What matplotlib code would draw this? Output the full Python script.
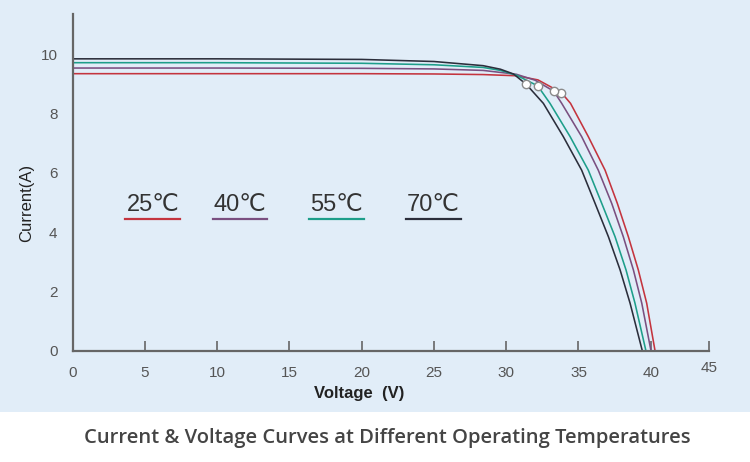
import matplotlib
matplotlib.use("Agg")
import matplotlib.pyplot as plt
from matplotlib.patches import Rectangle

# I-V curves, one list pair per temperature
temps = ["25℃", "40℃", "55℃", "70℃"]
colors = ["#c4343e", "#7a4f80", "#1d9e8a", "#2b2e3b"]

v_25 = [0, 10, 20, 25, 28.4, 30.7, 32.2, 33.82, 34.45, 35.68, 36.84, 37.69, 38.45, 39.14, 39.72, 40.30]
i_25 = [9.34, 9.34, 9.34, 9.33, 9.31, 9.27, 9.13, 8.70, 8.34, 7.22, 6.09, 4.97, 3.85, 2.73, 1.61, 0]

v_40 = [0, 10, 20, 25, 28.4, 30.7, 32.0, 33.29, 33.84, 35.22, 36.37, 37.30, 38.10, 38.80, 39.38, 40.02]
i_40 = [9.53, 9.53, 9.52, 9.50, 9.45, 9.32, 9.12, 8.75, 8.34, 7.22, 6.09, 4.97, 3.85, 2.73, 1.61, 0]

v_55 = [0, 10, 20, 25, 28.4, 29.6, 30.7, 32.18, 33.03, 34.42, 35.68, 36.61, 37.53, 38.29, 38.91, 39.67]
i_55 = [9.71, 9.71, 9.69, 9.64, 9.55, 9.45, 9.29, 8.93, 8.34, 7.22, 6.09, 4.97, 3.85, 2.73, 1.61, 0]

v_70 = [0, 10, 20, 25, 28.4, 29.6, 30.5, 31.37, 32.57, 33.95, 35.22, 36.15, 37.07, 37.88, 38.57, 39.42]
i_70 = [9.84, 9.84, 9.82, 9.75, 9.61, 9.49, 9.33, 8.99, 8.34, 7.22, 6.09, 4.97, 3.85, 2.73, 1.61, 0]

# maximum power points (circles)
mpp_v = [33.82, 33.29, 32.18, 31.37]
mpp_i = [8.70, 8.75, 8.93, 8.99]

x_ticks = [0, 5, 10, 15, 20, 25, 30, 35, 40]
y_ticks = [0, 2, 4, 6, 8, 10]

BG = "#e1edf8"
AXIS = "#666666"
TXT = "#555555"

fig = plt.figure(figsize=(7.5, 4.62), dpi=100)
fig.patch.set_facecolor("white")
fig.patches.append(Rectangle((0, 0.108), 1, 0.892, transform=fig.transFigure,
                             facecolor=BG, edgecolor="none", zorder=-10))

ax = fig.add_axes([0.0969, 0.2403, 0.8484, 0.7294])
ax.set_facecolor("none")
ax.set_xlim(0, 44.03)
ax.set_ylim(0, 11.35)

curves = [(v_25, i_25), (v_40, i_40), (v_55, i_55), (v_70, i_70)]
for (v, i), c in zip(curves, colors):
    ax.plot(v, i, color=c, lw=1.15, solid_joinstyle="round")

ax.plot(mpp_v, mpp_i, "o", ms=6, mfc="white", mec="#8a8a8a", mew=1.0, ls="none", zorder=5)

# Spines
for s in ["top", "right"]:
    ax.spines[s].set_visible(False)
for s in ["left", "bottom"]:
    ax.spines[s].set_color(AXIS)
    ax.spines[s].set_linewidth(1.6)

font = ["Liberation Sans", "DejaVu Sans"]
ax.set_xticks(x_ticks + [44.03])
ax.set_xticklabels([str(t) for t in x_ticks] + [""], fontsize=11, color=TXT, family=font)
ax.tick_params(axis="x", direction="in", length=7, width=1.2, color=AXIS, pad=11)
ax.text(44.03, -0.33, "45", ha="center", va="top", fontsize=11, color=TXT, family=font)

ax.set_yticks(y_ticks)
ax.set_yticklabels([str(t) for t in y_ticks], fontsize=11, color=TXT, family=font)
ax.tick_params(axis="y", length=0, pad=11)

ax.set_xlabel("Voltage  (V)", fontsize=12, color="#222222", family=font, fontweight="bold")
ax.xaxis.set_label_coords(0.451, -0.105)
ax.set_ylabel("Current(A)", fontsize=12, color="#222222", family=font)
ax.yaxis.set_label_coords(-0.06, 0.44)

# Hand-drawn legend: label above a coloured underline
leg_x = [0.083, 0.22, 0.372, 0.524]
for t, c, lx in zip(temps, colors, leg_x):
    ax.text(lx + 0.043, 0.414, t, transform=ax.transAxes, ha="center", va="baseline",
            fontsize=17, color="#333333", family=font)
    ax.plot([lx, lx + 0.086], [0.392, 0.392], transform=ax.transAxes, color=c, lw=1.6,
            clip_on=False)

fig.text(0.517, 0.052, "Current & Voltage Curves at Different Operating Temperatures",
         ha="center", va="center", fontsize=14.5, color="#444444", fontweight="semibold",
         family=["Open Sans", "DejaVu Sans"])

plt.savefig("out.png", dpi=100, facecolor=fig.get_facecolor())
